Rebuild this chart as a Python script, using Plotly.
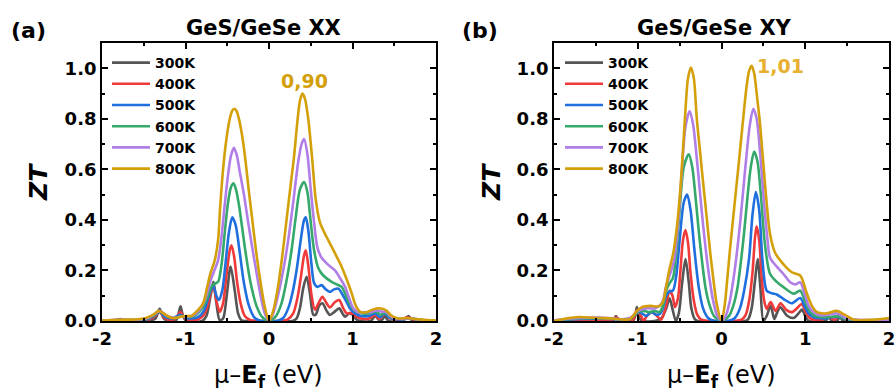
import plotly.graph_objects as go

TEMPS = ["300K", "400K", "500K", "600K", "700K", "800K"]
COLORS = ["#555555", "#F03A3A", "#1F6FDE", "#34A96A", "#B07EE6", "#D4A00A"]
X_TICKS = [-2, -1, 0, 1, 2]
X_TICK_TEXT = ["-2", "-1", "0", "1", "2"]

# ---- panel (a): GeS/GeSe XX, (mu - Ef [eV], ZT) ----
XX_300K = [(-2.0,0),(-1.85,0),(-1.78,0.008),(-1.72,0),(-1.45,0),(-1.36,0.01),(-1.31,0.048),(-1.26,0.01),(-1.2,0),(-1.12,0),(-1.09,0.02),(-1.06,0.058),(-1.03,0.02),(-0.99,0),(-0.8,0),(-0.75,0.02),(-0.70,0.10),(-0.665,0.155),(-0.63,0.07),(-0.59,0.003),(-0.55,0.01),(-0.51,0.09),(-0.46,0.215),(-0.41,0.12),(-0.37,0.03),(-0.33,0.003),(-0.28,0),(0.0,0),(0.28,0),(0.33,0.01),(0.37,0.05),(0.41,0.13),(0.45,0.175),(0.49,0.11),(0.53,0.025),(0.56,0.025),(0.60,0.06),(0.64,0.07),(0.69,0.04),(0.73,0.024),(0.78,0.035),(0.84,0.05),(0.88,0.03),(0.91,0.017),(0.96,0.03),(1.0,0.025),(1.05,0.005),(1.1,0),(1.22,0),(1.27,0.02),(1.32,0.003),(1.35,0.003),(1.39,0.02),(1.43,0),(1.6,0),(1.67,0.02),(1.72,0),(2.0,0)]
XX_400K = [(-2.0,0),(-1.8,0.004),(-1.6,0.002),(-1.45,0.005),(-1.38,0.015),(-1.31,0.035),(-1.25,0.012),(-1.18,0.004),(-1.12,0.01),(-1.06,0.035),(-1.01,0.01),(-0.95,0.004),(-0.86,0.005),(-0.79,0.02),(-0.74,0.055),(-0.70,0.11),(-0.665,0.135),(-0.63,0.08),(-0.59,0.036),(-0.55,0.07),(-0.51,0.18),(-0.47,0.28),(-0.45,0.30),(-0.42,0.26),(-0.38,0.15),(-0.34,0.07),(-0.29,0.02),(-0.22,0.003),(-0.15,0),(0.0,0),(0.15,0),(0.22,0.005),(0.29,0.03),(0.34,0.09),(0.38,0.17),(0.42,0.26),(0.44,0.28),(0.47,0.22),(0.51,0.10),(0.55,0.045),(0.60,0.075),(0.64,0.096),(0.69,0.07),(0.73,0.054),(0.79,0.075),(0.84,0.083),(0.89,0.05),(0.93,0.03),(0.98,0.032),(1.03,0.02),(1.1,0.01),(1.2,0.01),(1.27,0.025),(1.32,0.008),(1.39,0.03),(1.45,0.01),(1.55,0.004),(1.67,0.015),(1.75,0.003),(2.0,0)]
XX_500K = [(-2.0,0),(-1.8,0.004),(-1.6,0.003),(-1.45,0.008),(-1.38,0.02),(-1.31,0.036),(-1.24,0.015),(-1.16,0.01),(-1.06,0.025),(-1.0,0.012),(-0.92,0.01),(-0.85,0.015),(-0.78,0.04),(-0.72,0.10),(-0.67,0.14),(-0.63,0.10),(-0.60,0.083),(-0.56,0.12),(-0.52,0.23),(-0.48,0.35),(-0.44,0.41),(-0.40,0.38),(-0.35,0.27),(-0.30,0.15),(-0.24,0.06),(-0.17,0.012),(-0.09,0),(0.0,0),(0.09,0),(0.17,0.012),(0.23,0.05),(0.28,0.11),(0.33,0.20),(0.38,0.32),(0.42,0.40),(0.44,0.41),(0.47,0.36),(0.51,0.22),(0.54,0.15),(0.58,0.135),(0.63,0.142),(0.68,0.125),(0.73,0.115),(0.78,0.125),(0.83,0.128),(0.88,0.105),(0.93,0.075),(0.97,0.05),(1.03,0.03),(1.1,0.02),(1.2,0.02),(1.27,0.03),(1.33,0.015),(1.38,0.03),(1.45,0.012),(1.6,0.006),(1.67,0.012),(1.8,0.003),(2.0,0)]
XX_600K = [(-2.0,0.001),(-1.8,0.004),(-1.6,0.004),(-1.45,0.01),(-1.38,0.022),(-1.31,0.038),(-1.22,0.018),(-1.12,0.012),(-1.04,0.02),(-0.95,0.015),(-0.87,0.025),(-0.80,0.05),(-0.74,0.09),(-0.69,0.135),(-0.66,0.145),(-0.61,0.155),(-0.57,0.22),(-0.53,0.35),(-0.49,0.47),(-0.455,0.53),(-0.425,0.545),(-0.395,0.52),(-0.36,0.46),(-0.33,0.39),(-0.28,0.27),(-0.22,0.15),(-0.15,0.06),(-0.08,0.015),(0.0,0),(0.08,0.018),(0.15,0.07),(0.21,0.16),(0.27,0.28),(0.32,0.41),(0.37,0.52),(0.42,0.55),(0.46,0.51),(0.50,0.39),(0.54,0.28),(0.59,0.21),(0.65,0.18),(0.75,0.155),(0.81,0.145),(0.87,0.135),(0.91,0.11),(0.95,0.077),(1.0,0.05),(1.05,0.035),(1.12,0.03),(1.2,0.03),(1.28,0.037),(1.34,0.025),(1.39,0.033),(1.46,0.015),(1.6,0.008),(1.7,0.01),(1.85,0.003),(2.0,0.001)]
XX_700K = [(-2.0,0.001),(-1.8,0.005),(-1.6,0.005),(-1.45,0.012),(-1.38,0.025),(-1.31,0.04),(-1.22,0.02),(-1.12,0.013),(-1.03,0.018),(-0.95,0.018),(-0.87,0.03),(-0.80,0.06),(-0.74,0.11),(-0.70,0.16),(-0.66,0.195),(-0.61,0.24),(-0.57,0.33),(-0.53,0.46),(-0.49,0.58),(-0.455,0.655),(-0.42,0.685),(-0.385,0.655),(-0.35,0.59),(-0.30,0.50),(-0.24,0.37),(-0.18,0.25),(-0.10,0.10),(-0.05,0.03),(0.0,0),(0.05,0.03),(0.10,0.09),(0.17,0.20),(0.23,0.32),(0.29,0.47),(0.35,0.63),(0.39,0.70),(0.42,0.72),(0.46,0.66),(0.50,0.52),(0.54,0.39),(0.58,0.29),(0.63,0.25),(0.70,0.225),(0.79,0.20),(0.85,0.17),(0.91,0.136),(0.96,0.09),(1.01,0.05),(1.07,0.035),(1.15,0.035),(1.22,0.035),(1.29,0.042),(1.35,0.037),(1.4,0.036),(1.47,0.015),(1.6,0.008),(1.7,0.01),(1.85,0.003),(2.0,0.001)]
XX_800K = [(-2.0,0.002),(-1.8,0.005),(-1.6,0.006),(-1.5,0.01),(-1.4,0.022),(-1.32,0.04),(-1.24,0.025),(-1.16,0.012),(-1.08,0.015),(-1.0,0.02),(-0.93,0.02),(-0.86,0.04),(-0.79,0.07),(-0.74,0.135),(-0.70,0.19),(-0.65,0.24),(-0.61,0.32),(-0.585,0.45),(-0.55,0.60),(-0.51,0.72),(-0.47,0.80),(-0.44,0.832),(-0.415,0.84),(-0.39,0.832),(-0.36,0.80),(-0.32,0.73),(-0.28,0.63),(-0.24,0.51),(-0.20,0.40),(-0.16,0.29),(-0.10,0.15),(-0.05,0.055),(0.0,0),(0.05,0.04),(0.11,0.14),(0.16,0.26),(0.21,0.40),(0.26,0.54),(0.30,0.65),(0.34,0.79),(0.37,0.87),(0.40,0.90),(0.43,0.88),(0.47,0.80),(0.52,0.63),(0.56,0.48),(0.61,0.39),(0.67,0.345),(0.75,0.294),(0.81,0.255),(0.87,0.215),(0.93,0.165),(0.99,0.11),(1.04,0.06),(1.10,0.035),(1.17,0.035),(1.24,0.045),(1.30,0.05),(1.36,0.048),(1.41,0.04),(1.47,0.02),(1.55,0.01),(1.65,0.012),(1.75,0.008),(1.9,0.004),(2.0,0.003)]

# ---- panel (b): GeS/GeSe XY ----
XY_300K = [(-2.0,0),(-1.5,0),(-1.3,0),(-1.26,0.02),(-1.22,0),(-1.06,0),(-1.03,0.02),(-1.01,0.055),(-0.98,0.01),(-0.94,0),(-0.8,0),(-0.72,0.01),(-0.66,0.05),(-0.62,0.09),(-0.58,0.04),(-0.545,0),(-0.51,0.03),(-0.47,0.15),(-0.43,0.245),(-0.39,0.15),(-0.36,0.05),(-0.32,0.008),(-0.28,0),(0.0,0),(0.28,0),(0.32,0.008),(0.36,0.05),(0.40,0.16),(0.432,0.245),(0.465,0.13),(0.50,0.0),(0.54,0.02),(0.587,0.061),(0.63,0.008),(0.66,0.03),(0.70,0.055),(0.74,0.04),(0.78,0.022),(0.86,0.012),(0.92,0.03),(0.96,0.045),(1.0,0.02),(1.04,0),(1.24,0),(1.28,0.015),(1.32,0),(1.38,0),(1.415,0.02),(1.45,0),(2.0,0)]
XY_400K = [(-2.0,0),(-1.7,0.005),(-1.3,0.005),(-1.26,0.015),(-1.2,0.003),(-1.06,0.005),(-1.01,0.04),(-0.96,0.02),(-0.93,0.0),(-0.89,0.02),(-0.83,0.035),(-0.77,0.02),(-0.72,0.005),(-0.67,0.05),(-0.62,0.12),(-0.585,0.10),(-0.555,0.055),(-0.52,0.09),(-0.49,0.20),(-0.46,0.32),(-0.43,0.36),(-0.40,0.31),(-0.37,0.19),(-0.33,0.08),(-0.29,0.025),(-0.24,0.005),(-0.15,0),(0.0,0),(0.15,0),(0.24,0.005),(0.29,0.025),(0.33,0.08),(0.37,0.19),(0.40,0.33),(0.42,0.375),(0.45,0.32),(0.48,0.17),(0.51,0.08),(0.54,0.048),(0.587,0.075),(0.645,0.04),(0.705,0.07),(0.77,0.045),(0.84,0.035),(0.90,0.05),(0.957,0.067),(1.0,0.04),(1.06,0.01),(1.2,0.005),(1.28,0.015),(1.35,0.005),(1.415,0.02),(1.5,0.003),(2.0,0)]
XY_500K = [(-2.0,0.001),(-1.7,0.008),(-1.3,0.008),(-1.2,0.005),(-1.08,0.01),(-1.01,0.035),(-0.95,0.03),(-0.9,0.02),(-0.84,0.035),(-0.78,0.025),(-0.73,0.03),(-0.70,0.05),(-0.66,0.10),(-0.62,0.117),(-0.58,0.12),(-0.54,0.18),(-0.50,0.32),(-0.45,0.47),(-0.41,0.50),(-0.37,0.44),(-0.32,0.27),(-0.27,0.13),(-0.22,0.05),(-0.16,0.012),(-0.1,0.002),(0.0,0),(0.1,0.002),(0.16,0.012),(0.22,0.05),(0.27,0.12),(0.33,0.25),(0.37,0.42),(0.41,0.51),(0.45,0.44),(0.487,0.25),(0.54,0.12),(0.60,0.11),(0.66,0.105),(0.75,0.085),(0.84,0.07),(0.94,0.091),(0.99,0.06),(1.04,0.03),(1.1,0.015),(1.25,0.01),(1.3,0.015),(1.415,0.015),(1.5,0.005),(2.0,0.002)]
XY_600K = [(-2.0,0.002),(-1.7,0.01),(-1.3,0.01),(-1.2,0.006),(-1.08,0.012),(-1.0,0.035),(-0.93,0.04),(-0.86,0.035),(-0.8,0.04),(-0.74,0.035),(-0.70,0.06),(-0.66,0.12),(-0.62,0.15),(-0.58,0.17),(-0.54,0.27),(-0.50,0.44),(-0.45,0.61),(-0.39,0.66),(-0.35,0.61),(-0.31,0.49),(-0.27,0.35),(-0.23,0.23),(-0.19,0.13),(-0.14,0.06),(-0.09,0.02),(0.0,0),(0.09,0.02),(0.14,0.06),(0.19,0.13),(0.23,0.23),(0.27,0.35),(0.31,0.49),(0.35,0.61),(0.39,0.67),(0.43,0.63),(0.47,0.50),(0.52,0.30),(0.58,0.186),(0.66,0.155),(0.74,0.134),(0.86,0.108),(0.94,0.12),(1.0,0.075),(1.06,0.035),(1.12,0.02),(1.25,0.015),(1.4,0.018),(1.5,0.006),(2.0,0.003)]
XY_700K = [(-2.0,0.003),(-1.7,0.012),(-1.3,0.011),(-1.2,0.007),(-1.08,0.014),(-1.0,0.04),(-0.9,0.05),(-0.8,0.05),(-0.74,0.06),(-0.70,0.08),(-0.66,0.14),(-0.61,0.19),(-0.565,0.24),(-0.525,0.36),(-0.48,0.56),(-0.43,0.77),(-0.38,0.83),(-0.34,0.78),(-0.30,0.66),(-0.26,0.52),(-0.22,0.38),(-0.18,0.26),(-0.14,0.16),(-0.10,0.08),(-0.05,0.02),(0.0,0),(0.05,0.02),(0.10,0.08),(0.14,0.16),(0.18,0.26),(0.22,0.38),(0.26,0.52),(0.30,0.66),(0.34,0.78),(0.38,0.84),(0.42,0.80),(0.46,0.67),(0.51,0.46),(0.55,0.32),(0.58,0.25),(0.66,0.215),(0.74,0.186),(0.82,0.153),(0.88,0.145),(0.94,0.153),(0.99,0.11),(1.04,0.061),(1.1,0.035),(1.2,0.022),(1.38,0.03),(1.5,0.01),(2.0,0.004)]
XY_800K = [(-2.0,0.0),(-1.85,0.01),(-1.71,0.016),(-1.5,0.012),(-1.3,0.01),(-1.2,0.006),(-1.09,0.008),(-1.01,0.04),(-0.95,0.055),(-0.85,0.06),(-0.75,0.058),(-0.70,0.075),(-0.67,0.12),(-0.625,0.20),(-0.575,0.27),(-0.53,0.38),(-0.487,0.54),(-0.436,0.805),(-0.40,0.96),(-0.365,1.003),(-0.33,0.96),(-0.296,0.805),(-0.256,0.67),(-0.217,0.54),(-0.177,0.41),(-0.137,0.278),(-0.097,0.165),(-0.057,0.068),(0.0,0),(0.04,0.068),(0.07,0.17),(0.10,0.278),(0.14,0.41),(0.18,0.54),(0.22,0.67),(0.26,0.805),(0.30,0.93),(0.33,0.99),(0.36,1.01),(0.39,0.98),(0.42,0.90),(0.46,0.78),(0.52,0.54),(0.58,0.343),(0.64,0.27),(0.72,0.232),(0.84,0.193),(0.94,0.18),(0.98,0.15),(1.02,0.108),(1.08,0.06),(1.14,0.035),(1.25,0.03),(1.375,0.04),(1.47,0.025),(1.58,0.005),(1.8,0.005),(2.0,0.012)]

XX_SERIES = [XX_300K, XX_400K, XX_500K, XX_600K, XX_700K, XX_800K]
XY_SERIES = [XY_300K, XY_400K, XY_500K, XY_600K, XY_700K, XY_800K]

FONT = "DejaVu Sans"
W, H = 896, 392

fig = go.Figure()
for series, xa, ya, leg in [(XX_SERIES, "x", "y", "legend"), (XY_SERIES, "x2", "y2", "legend2")]:
    for name, pts, col in zip(TEMPS, series, COLORS):
        fig.add_trace(go.Scatter(
            x=[p[0] for p in pts], y=[p[1] for p in pts],
            mode="lines", name=name,
            line=dict(color=col, width=2.6, shape="spline", smoothing=0.8),
            xaxis=xa, yaxis=ya, legend=leg,
        ))

def xaxis(domain, anchor):
    return dict(domain=domain, anchor=anchor, range=[-2, 2], tickvals=X_TICKS, ticktext=X_TICK_TEXT,
                automargin=False,
                ticks="inside", ticklen=6, tickwidth=1.5, tickcolor="black",
                minor=dict(dtick=0.5, ticks="inside", ticklen=3.5, tickwidth=1.5, tickcolor="black"),
                showline=True, linecolor="black", linewidth=1.8, mirror="ticks",
                showgrid=False, zeroline=False,
                tickfont=dict(family=FONT, size=18, color="black", weight="bold"))

def yaxis(domain, anchor):
    return dict(domain=domain, anchor=anchor, range=[0, 1.1], tickvals=[0, 0.2, 0.4, 0.6, 0.8, 1.0],
                tickformat=".1f", automargin=False,
                ticks="inside", ticklen=6, tickwidth=1.5, tickcolor="black",
                minor=dict(dtick=0.1, ticks="inside", ticklen=3.5, tickwidth=1.5, tickcolor="black"),
                showline=True, linecolor="black", linewidth=1.8, mirror="ticks",
                showgrid=False, zeroline=False,
                tickfont=dict(family=FONT, size=18, color="black", weight="bold"))

ydom = [1 - 321 / H, 1 - 43 / H]
leg_font = dict(family=FONT, size=14, color="black", weight="bold")
fig.update_layout(
    width=W, height=H, autosize=False,
    margin=dict(l=0, r=0, t=0, b=0, autoexpand=False),
    paper_bgcolor="white", plot_bgcolor="white",
    xaxis=xaxis([102 / W, 436 / W], "y"),
    yaxis=yaxis(ydom, "x"),
    xaxis2=xaxis([554 / W, 889 / W], "y2"),
    yaxis2=yaxis(ydom, "x2"),
    legend=dict(x=107 / W, y=1 - 47 / H, xanchor="left", yanchor="top", bgcolor="rgba(0,0,0,0)",
                font=leg_font, tracegroupgap=0, itemwidth=38),
    legend2=dict(x=560 / W, y=1 - 47 / H, xanchor="left", yanchor="top", bgcolor="rgba(0,0,0,0)",
                 font=leg_font, tracegroupgap=0, itemwidth=38),
    showlegend=True,
)

def label(text, px, py, size, color="black", weight="bold", angle=0):
    fig.add_annotation(text=text, x=px / W, y=1 - py / H, xref="paper", yref="paper",
                       xanchor="center", yanchor="middle", showarrow=False, textangle=angle,
                       font=dict(family=FONT, size=size, color=color, weight=weight))

label("(a)", 28, 30, 22)
label("(b)", 480, 30, 22)
label("GeS/GeSe XX", 263, 28, 21)
label("GeS/GeSe XY", 714, 28, 21)
# axis titles
label("μ–<b>E<sub>f</sub></b> (eV)", 268, 376, 24, weight="normal")
label("μ–<b>E<sub>f</sub></b> (eV)", 721, 376, 24, weight="normal")
label("<i>ZT</i>", 38, 182, 25, angle=-90)
label("<i>ZT</i>", 491, 182, 25, angle=-90)

fig.add_annotation(text="0,90", x=0.40, y=0.90, xref="x", yref="y", xanchor="center", yanchor="middle",
                   xshift=2, yshift=13, showarrow=False,
                   font=dict(family=FONT, size=19, color="#D4A00A", weight="bold"))
fig.add_annotation(text="1,01", x=0.36, y=1.01, xref="x2", yref="y2", xanchor="center", yanchor="middle",
                   xshift=29, yshift=0, showarrow=False,
                   font=dict(family=FONT, size=19, color="#E8B030", weight="bold"))

fig.write_html("out.html")
